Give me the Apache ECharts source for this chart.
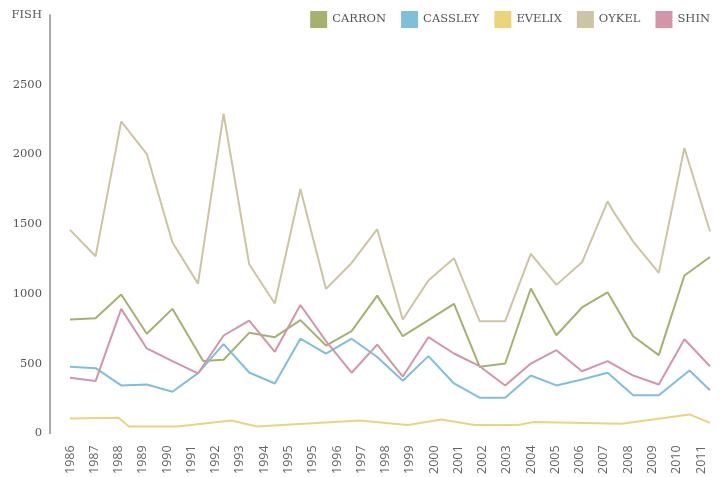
<!DOCTYPE html>
<html>
<head>
<meta charset="utf-8">
<script src="https://cdn.jsdelivr.net/npm/echarts@6/dist/echarts.min.js"></script>
<style>
html,body{margin:0;padding:0;background:#fff;}
#chart{width:725px;height:477px;}
</style>
</head>
<body>
<div id="chart"></div>
<script>
// Series names and colours
const seriesNames = ['CARRON', 'CASSLEY', 'EVELIX', 'OYKEL', 'SHIN'];
const seriesColors = ['#a4b26d', '#7fbfdc', '#ecd47a', '#cdc4a3', '#d396a9'];

// Data as [year, fish count]
const carron = [[1986,817],[1987,826],[1988,996],[1989,714],[1990,893],[1991.2,520],[1992,528],[1993,721],[1994,690],[1995,812],[1996,630],[1997,733],[1998,988],[1999,697],[2000,812],[2001,929],[2002,478],[2003,501],[2004,1039],[2005,704],[2006,903],[2007,1012],[2008,697],[2009,561],[2010,1132],[2011,1265]];
const cassley = [[1986,478],[1987,468],[1988,344],[1989,351],[1990,299],[1991,432],[1992,640],[1993,437],[1994,358],[1995,679],[1996,572],[1997,679],[1998,548],[1999,378],[2000,554],[2001,358],[2002,256],[2003,256],[2004,415],[2005,344],[2006,387],[2007,435],[2008,273],[2009,273],[2010.2,451],[2011,310]];
const evelix = [[1986,107],[1987.9,112],[1988.3,50],[1990.2,50],[1992.3,93],[1993.3,50],[1997.3,93],[1999.2,60],[2000.5,100],[2001.8,60],[2003.5,60],[2004.1,81],[2007.55,69],[2010.2,136],[2011,76]];
const oykel = [[1986,1459],[1987,1270],[1988,2237],[1989,2003],[1990,1370],[1991,1074],[1992,2292],[1993,1213],[1994,931],[1995,1753],[1996,1036],[1997,1222],[1998,1464],[1999,817],[2000,1096],[2001,1256],[2002,805],[2003,805],[2004,1287],[2005,1065],[2006,1227],[2007,1664],[2007.26,1581],[2008,1375],[2009,1151],[2010,2046],[2011,1448]];
const shin = [[1986,399],[1987,375],[1988,893],[1989,609],[1990,518],[1991,430],[1992,702],[1993,809],[1994,585],[1995,921],[1996,662],[1997,435],[1998,637],[1999,408],[2000,690],[2001,573],[2002,482],[2003,344],[2004,501],[2005,597],[2006,446],[2007,518],[2008,415],[2009,351],[2010,675],[2011,482]];
const allData = [carron, cassley, evelix, oykel, shin];

// Axis settings
const xStart = 1986, xEnd = 2011;
const xTickStep = 0.948;
const yTicks = [0, 500, 1000, 1500, 2000, 2500, 3000];
const yTopLabel = 'FISH';

const chart = echarts.init(document.getElementById('chart'));
chart.setOption({
  animation: false,
  color: seriesColors,
  legend: {
    data: seriesNames,
    top: 6,
    right: 10,
    icon: 'rect',
    itemWidth: 17,
    itemHeight: 17,
    itemGap: 15,
    textStyle: {fontFamily: 'DejaVu Serif', fontSize: 11.5, color: '#555'}
  },
  grid: {left: 70, right: 15, top: 15, bottom: 43},
  xAxis: {
    type: 'value',
    min: xStart,
    max: xEnd,
    interval: xTickStep,
    axisLine: {show: false},
    axisTick: {show: false},
    splitLine: {show: false},
    axisLabel: {
      rotate: 90,
      margin: 12,
      showMaxLabel: false,
      fontFamily: 'Open Sans',
      fontSize: 12.5,
      color: '#666',
      formatter: v => String(Math.round(v))
    }
  },
  yAxis: {
    type: 'value',
    min: yTicks[0],
    max: yTicks[yTicks.length - 1],
    interval: yTicks[1] - yTicks[0],
    offset: 20,
    axisLine: {show: true, lineStyle: {color: '#8c8c8c', width: 1.5}},
    axisTick: {show: false},
    splitLine: {show: false},
    axisLabel: {
      margin: 8,
      fontFamily: 'DejaVu Serif',
      fontSize: 11.5,
      color: '#555',
      formatter: v => (v === yTicks[yTicks.length - 1] ? yTopLabel : String(v))
    }
  },
  series: seriesNames.map((n, i) => ({
    name: n,
    type: 'line',
    data: allData[i],
    symbol: 'none',
    lineStyle: {width: 2, color: seriesColors[i]},
    itemStyle: {color: seriesColors[i]}
  }))
});
</script>
</body>
</html>
